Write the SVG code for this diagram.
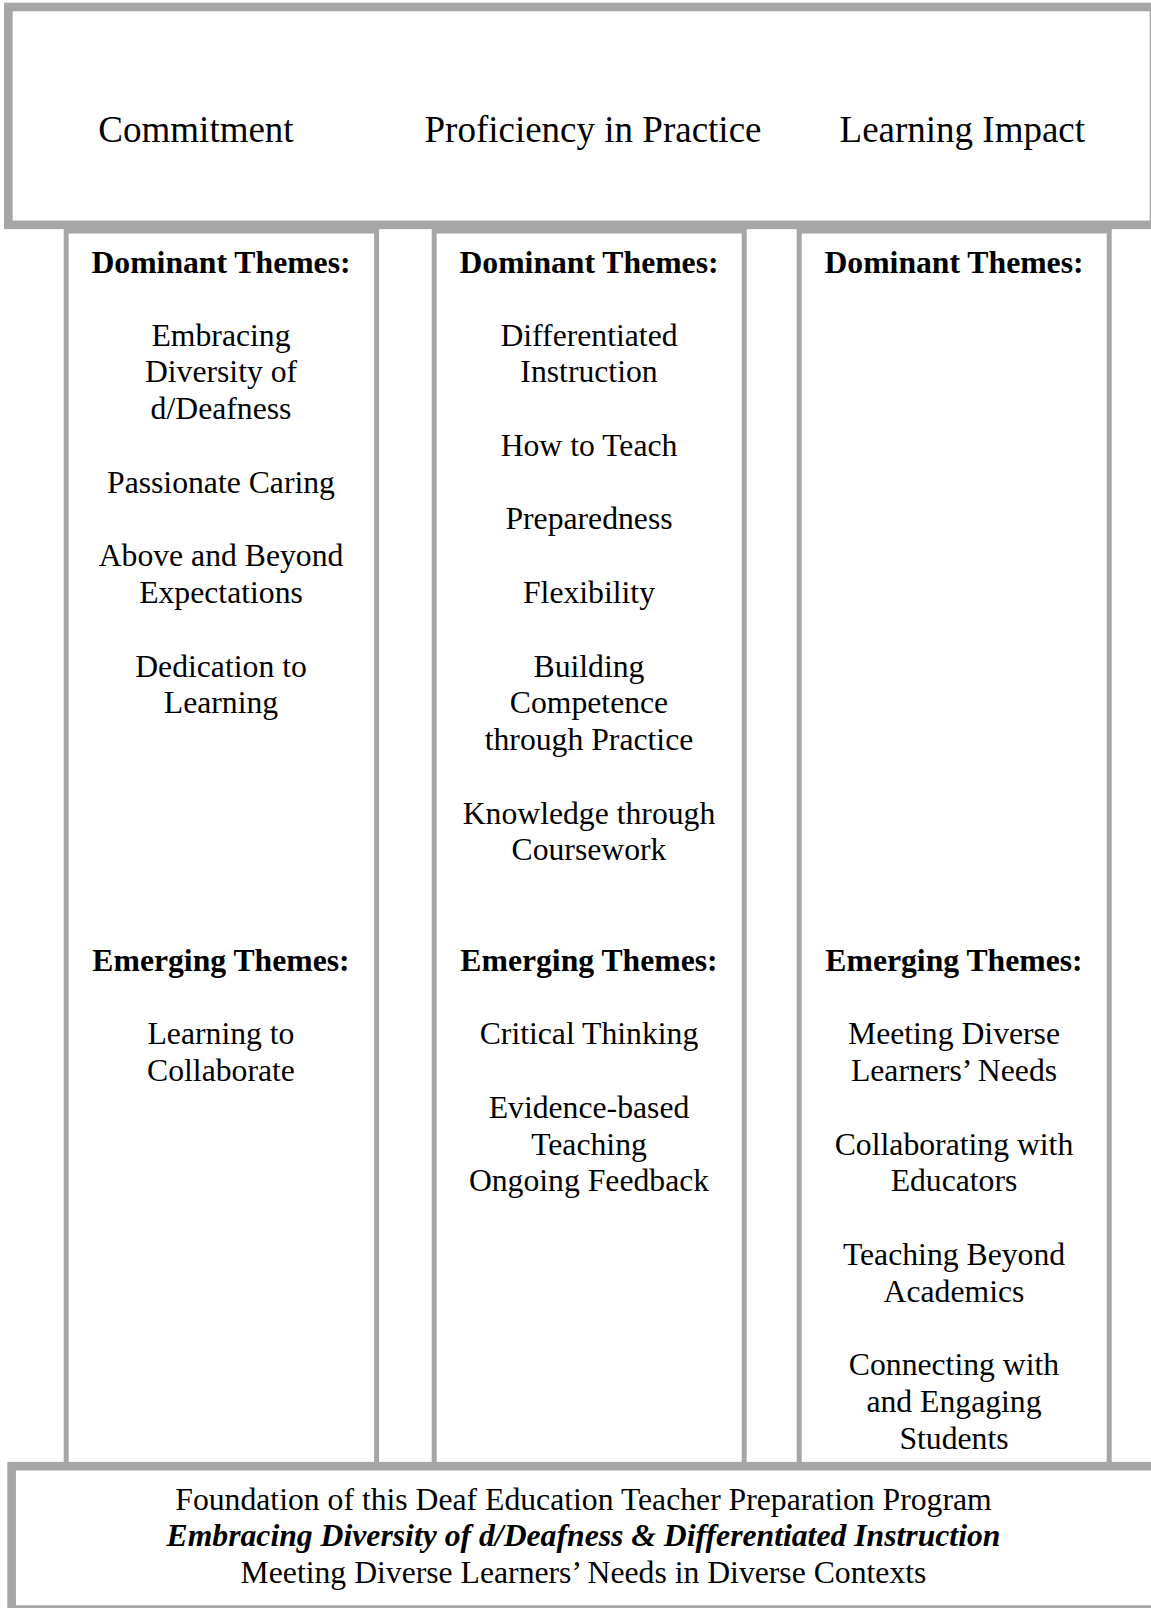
<svg xmlns="http://www.w3.org/2000/svg" width="1151" height="1608" viewBox="0 0 1151 1608">
<style>
.frame{fill:#ffffff;stroke:#a6a6a6;}
.col{fill:#ffffff;stroke:#a6a6a6;stroke-width:5;}
.box{stroke-width:8.6;}
text{font-family:"Liberation Serif","Times New Roman",serif;fill:#000000;text-anchor:middle;}
.hd{font-size:37px;}
.t{font-size:31.7px;}
.b{font-size:31.7px;font-weight:bold;}
.bi{font-size:31.7px;font-weight:bold;font-style:italic;}
</style>
<rect x="0" y="0" width="1151" height="1608" fill="#ffffff"/>
<g id="connectors"></g>
<g id="col-commitment">
<rect class="col" x="66.2" y="231" width="310.4" height="1240"/>
<text class="b" x="221" y="272.5">Dominant Themes:</text>
<text class="t" x="221" y="345.5">Embracing</text>
<text class="t" x="221" y="382.3">Diversity of</text>
<text class="t" x="221" y="419.1">d/Deafness</text>
<text class="t" x="221" y="492.6">Passionate Caring</text>
<text class="t" x="221" y="566.2">Above and Beyond</text>
<text class="t" x="221" y="602.9">Expectations</text>
<text class="t" x="221" y="676.5">Dedication to</text>
<text class="t" x="221" y="713.2">Learning</text>
<text class="b" x="221" y="971">Emerging Themes:</text>
<text class="t" x="221" y="1044.2">Learning to</text>
<text class="t" x="221" y="1080.9">Collaborate</text>
</g>
<g id="col-proficiency">
<rect class="col" x="434.2" y="231" width="310" height="1240"/>
<text class="b" x="589" y="272.5">Dominant Themes:</text>
<text class="t" x="589" y="345.5">Differentiated</text>
<text class="t" x="589" y="382.3">Instruction</text>
<text class="t" x="589" y="455.9">How to Teach</text>
<text class="t" x="589" y="529.4">Preparedness</text>
<text class="t" x="589" y="602.9">Flexibility</text>
<text class="t" x="589" y="676.5">Building</text>
<text class="t" x="589" y="713.2">Competence</text>
<text class="t" x="589" y="750">through Practice</text>
<text class="t" x="589" y="823.6">Knowledge through</text>
<text class="t" x="589" y="860.3">Coursework</text>
<text class="b" x="589" y="971">Emerging Themes:</text>
<text class="t" x="589" y="1044.2">Critical Thinking</text>
<text class="t" x="589" y="1117.7">Evidence-based</text>
<text class="t" x="589" y="1154.5">Teaching</text>
<text class="t" x="589" y="1191.3">Ongoing Feedback</text>
</g>
<g id="col-impact">
<rect class="col" x="799.2" y="231" width="310" height="1240"/>
<text class="b" x="954" y="272.5">Dominant Themes:</text>
<text class="b" x="954" y="971">Emerging Themes:</text>
<text class="t" x="954" y="1044.2">Meeting Diverse</text>
<text class="t" x="954" y="1080.9">Learners’ Needs</text>
<text class="t" x="954" y="1154.5">Collaborating with</text>
<text class="t" x="954" y="1191.3">Educators</text>
<text class="t" x="954" y="1264.8">Teaching Beyond</text>
<text class="t" x="954" y="1301.6">Academics</text>
<text class="t" x="954" y="1375.1">Connecting with</text>
<text class="t" x="954" y="1411.9">and Engaging</text>
<text class="t" x="954" y="1448.6">Students</text>
</g>
<g id="header">
<rect class="frame box" x="8.35" y="7" width="1145.65" height="217.85"/>
<text class="hd" x="196" y="141.5">Commitment</text>
<text class="hd" x="593" y="141.5">Proficiency in Practice</text>
<text class="hd" x="962.3" y="141.5">Learning Impact</text>
</g>
<g id="foundation">
<rect class="frame box" x="11.65" y="1466.2" width="1153.35" height="143.4"/>
<text class="t" x="583.5" y="1509.5">Foundation of this Deaf Education Teacher Preparation Program</text>
<text class="bi" x="583.5" y="1546">Embracing Diversity of d/Deafness &amp; Differentiated Instruction</text>
<text class="t" x="583.5" y="1582.5">Meeting Diverse Learners’ Needs in Diverse Contexts</text>
</g>
</svg>
